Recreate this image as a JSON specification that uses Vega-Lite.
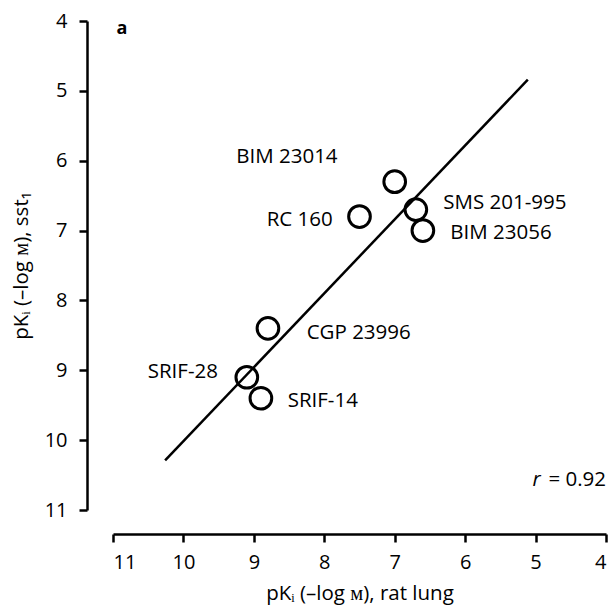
{
  "$schema": "https://vega.github.io/schema/vega-lite/v6.json",
  "width": 493,
  "height": 489,
  "autosize": {"type": "none"},
  "padding": {"left": 113, "top": 21, "right": 3, "bottom": 98},
  "background": "white",
  "config": {
    "view": {"stroke": null},
    "font": "Open Sans",
    "axis": {
      "domainColor": "black",
      "domainWidth": 2.5,
      "tickColor": "black",
      "tickWidth": 2.5,
      "tickSize": 8,
      "labelColor": "black",
      "labelFontSize": 20,
      "labelFont": "Open Sans",
      "titleFont": "Open Sans",
      "titleFontSize": 20.5,
      "titleFontWeight": "normal",
      "titleColor": "black",
      "grid": false,
      "format": "d"
    }
  },
  "datasets": {
    "points": [
      {"rat": 7.0, "sst": 6.3, "compound": "BIM 23014"},
      {"rat": 6.7, "sst": 6.7, "compound": "SMS 201-995"},
      {"rat": 6.6, "sst": 7.0, "compound": "BIM 23056"},
      {"rat": 7.5, "sst": 6.8, "compound": "RC 160"},
      {"rat": 8.8, "sst": 8.4, "compound": "CGP 23996"},
      {"rat": 9.1, "sst": 9.1, "compound": "SRIF-28"},
      {"rat": 8.9, "sst": 9.4, "compound": "SRIF-14"}
    ],
    "fit": [
      {"rat": 10.26, "sst": 10.29},
      {"rat": 5.11, "sst": 4.84}
    ],
    "labelsLeft": [
      {"rat": 9.25, "sst": 5.95, "compound": "BIM 23014"},
      {"rat": 6.31, "sst": 6.6, "compound": "SMS 201-995"},
      {"rat": 6.21, "sst": 7.04, "compound": "BIM 23056"},
      {"rat": 8.25, "sst": 8.46, "compound": "CGP 23996"},
      {"rat": 8.52, "sst": 9.44, "compound": "SRIF-14"}
    ],
    "labelsRight": [
      {"rat": 7.88, "sst": 6.85, "compound": "RC 160"},
      {"rat": 9.51, "sst": 9.02, "compound": "SRIF-28"}
    ],
    "stat": [
      {"rat": 4.0, "sst": 10.57, "text": "= 0.92", "italicText": "r", "ratR": 4.93}
    ],
    "panel": [
      {"rat": 10.95, "sst": 4.12, "text": "a"}
    ]
  },
  "layer": [
    {
      "data": {"name": "fit"},
      "mark": {"type": "line", "color": "black", "strokeWidth": 2.5},
      "encoding": {
        "x": {
          "field": "rat", "type": "quantitative",
          "scale": {"domain": [11, 4], "nice": false, "zero": false},
          "axis": {
            "values": [11, 10, 9, 8, 7, 6, 5, 4],
            "offset": 24,
            "labelPadding": 10,
            "title": "pKᵢ (–log ᴍ), rat lung",
            "titlePadding": 11
          }
        },
        "y": {
          "field": "sst", "type": "quantitative",
          "scale": {"domain": [4, 11], "reverse": true, "nice": false, "zero": false},
          "axis": {
            "values": [4, 5, 6, 7, 8, 9, 10, 11],
            "offset": 26,
            "labelPadding": 12,
            "title": "pKᵢ (–log ᴍ), sst₁",
            "titlePadding": 13
          }
        }
      }
    },
    {
      "data": {"name": "points"},
      "mark": {"type": "point", "shape": "circle", "filled": false, "size": 470, "strokeWidth": 3, "color": "black", "opacity": 1},
      "encoding": {
        "x": {"field": "rat", "type": "quantitative"},
        "y": {"field": "sst", "type": "quantitative"}
      }
    },
    {
      "data": {"name": "labelsLeft"},
      "mark": {"type": "text", "align": "left", "baseline": "middle", "fontSize": 20.5, "color": "black"},
      "encoding": {
        "x": {"field": "rat", "type": "quantitative"},
        "y": {"field": "sst", "type": "quantitative"},
        "text": {"field": "compound"}
      }
    },
    {
      "data": {"name": "labelsRight"},
      "mark": {"type": "text", "align": "right", "baseline": "middle", "fontSize": 20.5, "color": "black"},
      "encoding": {
        "x": {"field": "rat", "type": "quantitative"},
        "y": {"field": "sst", "type": "quantitative"},
        "text": {"field": "compound"}
      }
    },
    {
      "data": {"name": "stat"},
      "mark": {"type": "text", "align": "right", "baseline": "middle", "fontSize": 20.5, "color": "black"},
      "encoding": {
        "x": {"field": "rat", "type": "quantitative"},
        "y": {"field": "sst", "type": "quantitative"},
        "text": {"field": "text"}
      }
    },
    {
      "data": {"name": "stat"},
      "mark": {"type": "text", "align": "right", "baseline": "middle", "fontSize": 20.5, "fontStyle": "italic", "color": "black"},
      "encoding": {
        "x": {"field": "ratR", "type": "quantitative"},
        "y": {"field": "sst", "type": "quantitative"},
        "text": {"field": "italicText"}
      }
    },
    {
      "data": {"name": "panel"},
      "mark": {"type": "text", "align": "left", "baseline": "middle", "fontSize": 18, "fontWeight": "bold", "color": "black"},
      "encoding": {
        "x": {"field": "rat", "type": "quantitative"},
        "y": {"field": "sst", "type": "quantitative"},
        "text": {"field": "text"}
      }
    }
  ]
}
